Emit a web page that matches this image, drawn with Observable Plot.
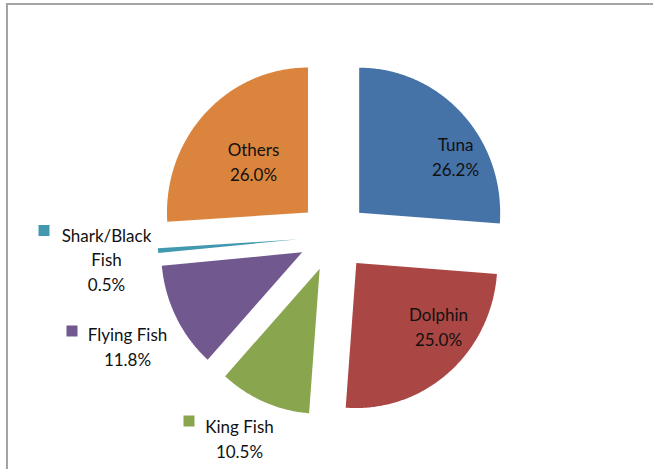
<!DOCTYPE html>
<html><head><meta charset="utf-8">
<script src="https://cdn.jsdelivr.net/npm/d3@7"></script>
<script src="https://cdn.jsdelivr.net/npm/@observablehq/plot@0.6"></script>
<style>
html,body{margin:0;padding:0;background:#fff;}
#wrap{position:relative;width:653px;height:469px;overflow:hidden;background:#fff;}
#border{position:absolute;left:6px;top:3px;right:-10px;bottom:-10px;border-top:2px solid #a3a3a3;border-left:2px solid #a3a3a3;pointer-events:none;}
</style></head><body>
<div id="wrap"><div id="chart"></div><div id="border"></div></div>
<script>
// ---- data ----
const names = ["Tuna", "Dolphin", "King Fish", "Flying Fish", "Shark/Black Fish", "Others"];
const shares = [26.2, 25.0, 10.5, 11.8, 0.5, 26.0];
const labelNames = ["Tuna", "Dolphin", "King Fish", "Flying Fish", "Shark/Black\nFish", "Others"];
const colors = ["#4572A7", "#AA4643", "#89A54E", "#71588F", "#4198AF", "#DB843D"];

// ---- layout ----
const W = 653, H = 469;
const cx = 333, cy = 236;      // pie centre (px)
const rx = 141, ry = 145;      // radii (px)
const explodePx = 35;          // slice explosion (px)
// label block centres as pixel offsets from pie centre
const labelOffsets = [[122, -81], [105, 89], [-94, 201], [-206, 109], [-227, 22], [-80, -76]];
// legend-key squares (outside labels only), pixel offsets from centre
const keyOffsets = [null, null, [-144.5, 184.5], [-261.5, 94.5], [-289.5, -6], null];

const table = names.map((n, i) => ({name: n, share: shares[i], label: labelNames[i] + "\n" + shares[i].toFixed(1) + "%"}));
const arcs = d3.pie().sort(null).value(d => d.share)(table);

const points = [];
arcs.forEach(a => {
  const mid = (a.startAngle + a.endAngle) / 2;
  const ox = explodePx * Math.sin(mid) / rx, oy = explodePx * Math.cos(mid) / ry;
  const n = Math.max(2, Math.ceil((a.endAngle - a.startAngle) / 0.01));
  points.push({name: a.data.name, x: ox, y: oy});
  for (let k = 0; k <= n; k++) {
    const t = a.startAngle + (a.endAngle - a.startAngle) * k / n;
    points.push({name: a.data.name, x: ox + Math.sin(t), y: oy + Math.cos(t)});
  }
  points.push({name: a.data.name, x: ox, y: oy});
});

const labels = table.map((d, i) => ({
  name: d.name, label: d.label,
  x: labelOffsets[i][0] / rx, y: -labelOffsets[i][1] / ry
}));
const keys = table.map((d, i) => keyOffsets[i] ? ({name: d.name, x: keyOffsets[i][0] / rx, y: -keyOffsets[i][1] / ry}) : null).filter(Boolean);

const chart = Plot.plot({
  width: W, height: H,
  margin: 0,
  x: {domain: [-cx / rx, (W - cx) / rx], range: [0, W], axis: null},
  y: {domain: [-(H - cy) / ry, cy / ry], range: [H, 0], axis: null},
  color: {domain: names, range: colors},
  style: {background: "#fff", overflow: "visible"},
  marks: [
    Plot.line(points, {x: "x", y: "y", z: "name", fill: "name", stroke: "none", curve: "linear"}),
    Plot.dot(keys, {x: "x", y: "y", fill: "name", symbol: "square", r: 6.2, stroke: "none"}),
    Plot.text(labels, {x: "x", y: "y", text: "label", fill: "#111", fontSize: 17, fontFamily: "Lato", lineHeight: 1.45, textAnchor: "middle"})
  ]
});
document.getElementById("chart").appendChild(chart);
</script>
</body></html>
